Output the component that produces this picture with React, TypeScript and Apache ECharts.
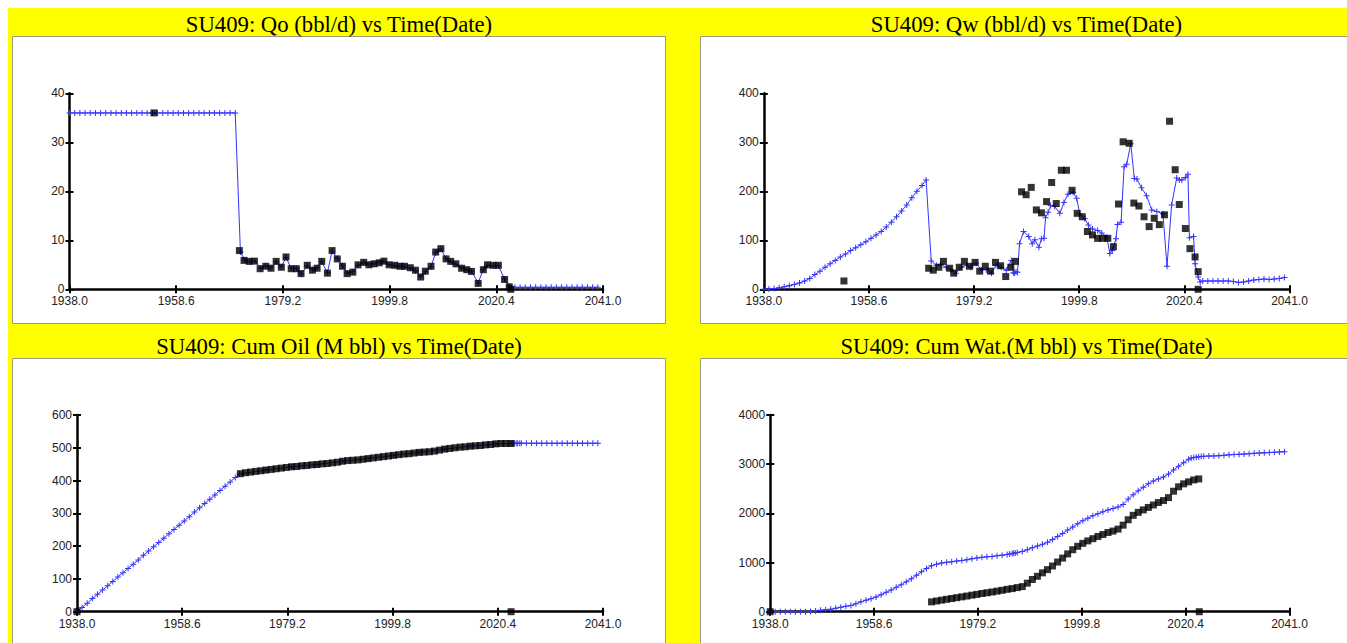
import React, { useEffect, useRef } from "react";
import * as echarts from "echarts";

// ---------- axis scales ----------
const X_MIN = 1938.0;
const X_MAX = 2041.0;
const X_STEP = 20.6;
const Y_MAX = [40, 400, 600, 4000];
const Y_STEP = [10, 100, 100, 1000];

const TITLES = [
  "SU409: Qo (bbl/d) vs Time(Date)",
  "SU409: Qw (bbl/d) vs Time(Date)",
  "SU409: Cum Oil (M bbl) vs Time(Date)",
  "SU409: Cum Wat.(M bbl) vs Time(Date)",
];

// ---------- Qo (bbl/d) ----------
const qoSim: number[][] = [
  [1938, 36], [1939, 36], [1940, 36], [1941, 36], [1942, 36], [1943, 36], [1944, 36], [1945, 36],
  [1946, 36], [1947, 36], [1948, 36], [1949, 36], [1950, 36], [1951, 36], [1952, 36], [1953, 36],
  [1954, 36], [1955, 36], [1956, 36], [1957, 36], [1958, 36], [1959, 36], [1960, 36], [1961, 36],
  [1962, 36], [1963, 36], [1964, 36], [1965, 36], [1966, 36], [1967, 36], [1968, 36], [1969, 36],
  [1970, 36],
  [1971.0, 7.6], [1971.8, 6.0], [1972.8, 5.6], [1973.8, 5.8], [1974.9, 4.3], [1975.9, 4.8], [1976.9, 4.4],
  [1977.9, 5.6], [1978.9, 4.6], [1979.8, 6.5], [1980.8, 4.3], [1981.8, 4.3], [1982.7, 3.1], [1983.9, 4.8],
  [1984.9, 4.0], [1985.8, 4.4], [1986.7, 5.6], [1987.8, 3.4], [1988.7, 7.8], [1989.7, 6.3], [1990.7, 4.8],
  [1991.6, 3.3], [1992.7, 3.6], [1993.7, 4.9], [1994.8, 5.4], [1995.8, 5.1], [1996.8, 5.2], [1997.8, 5.5],
  [1998.7, 5.7], [1999.7, 5.0], [2000.8, 4.8], [2001.8, 4.7], [2002.7, 4.6], [2003.8, 4.3], [2004.8, 3.8],
  [2005.8, 2.6], [2006.7, 3.6], [2007.8, 4.6], [2008.7, 7.5], [2009.7, 8.2], [2010.7, 6.3], [2011.6, 5.6],
  [2012.6, 5.1], [2013.7, 4.4], [2014.7, 4.0], [2015.6, 3.7], [2016.9, 1.3], [2017.9, 4.1], [2018.7, 4.9],
  [2019.8, 4.8], [2020.8, 4.8], [2022.0, 2.1], [2022.9, 0.6], [2023.3, 0.4],
  [2024, 0.4], [2025, 0.4], [2026, 0.4], [2027, 0.4], [2028, 0.4], [2029, 0.4], [2030, 0.4], [2031, 0.4],
  [2032, 0.4], [2033, 0.4], [2034, 0.4], [2035, 0.4], [2036, 0.4], [2037, 0.4], [2038, 0.4], [2039, 0.4],
  [2040, 0.4],
];
const qoObs: number[][] = [
  [1954.3, 36],
  [1970.8, 7.9], [1971.7, 5.9], [1972.7, 5.7], [1973.7, 5.75], [1974.8, 4.2], [1975.9, 4.7], [1976.9, 4.3],
  [1977.9, 5.7], [1978.9, 4.5], [1979.8, 6.6], [1980.8, 4.2], [1981.8, 4.2], [1982.7, 3.2], [1983.9, 4.9],
  [1984.9, 3.9], [1985.8, 4.3], [1986.7, 5.7], [1987.8, 3.3], [1988.7, 7.9], [1989.7, 6.2], [1990.7, 4.7],
  [1991.6, 3.2], [1992.7, 3.5], [1993.7, 5.0], [1994.8, 5.5], [1995.8, 5.0], [1996.8, 5.2], [1997.8, 5.4],
  [1998.7, 5.75], [1999.7, 5.0], [2000.8, 4.9], [2001.8, 4.7], [2002.7, 4.7], [2003.8, 4.4], [2004.8, 3.9],
  [2005.8, 2.5], [2006.7, 3.7], [2007.8, 4.7], [2008.7, 7.6], [2009.7, 8.3], [2010.7, 6.2], [2011.6, 5.7],
  [2012.6, 5.2], [2013.7, 4.3], [2014.7, 4.0], [2015.6, 3.65], [2016.9, 1.2], [2017.9, 4.0], [2018.7, 5.0],
  [2019.8, 4.9], [2020.8, 4.9], [2022.0, 2.0], [2022.9, 0.5], [2023.2, 0],
];

// ---------- Qw (bbl/d) ----------
const qwSim: number[][] = [
  [1938, 0], [1939, 0.5], [1940, 1.5], [1941, 3], [1942, 5], [1943, 7.5], [1944, 10], [1945, 13],
  [1946, 17], [1947, 22], [1948, 30], [1949, 37], [1950, 45], [1951, 52], [1952, 59], [1953, 66],
  [1954, 72], [1955, 79], [1956, 85], [1957, 91], [1958, 97], [1959, 104], [1960, 111], [1961, 118],
  [1962, 127], [1963, 137], [1964, 148], [1965, 160], [1966, 172], [1967, 187], [1968, 200], [1969, 212],
  [1969.8, 223],
  [1970.8, 58], [1971.8, 49], [1972.7, 51], [1973.7, 45], [1974.7, 40], [1975.6, 33], [1976.7, 45],
  [1977.7, 49], [1978.6, 45], [1979.6, 53], [1980.6, 40], [1981.6, 40], [1982.6, 33], [1983.5, 49],
  [1984.5, 45], [1985.5, 39], [1986.5, 59], [1986.9, 34], [1987.1, 33], [1987.4, 36], [1987.7, 35],
  [1988.1, 93], [1988.9, 118], [1989.9, 108], [1990.6, 93], [1991.1, 101], [1991.9, 86], [1992.4, 103],
  [1992.9, 104], [1993.2, 146], [1993.7, 157], [1994.2, 171], [1995.0, 169], [1996.0, 155], [1996.8, 177],
  [1997.6, 194], [1998.6, 198], [1999.3, 186], [1999.9, 154], [2000.9, 144], [2001.6, 131], [2002.4, 123],
  [2003.4, 120], [2004.2, 115], [2005.2, 106], [2005.8, 73], [2006.3, 79], [2007.0, 103], [2007.3, 132],
  [2008.0, 137], [2008.6, 250], [2009.1, 255], [2009.9, 297], [2010.6, 226], [2011.1, 225], [2012.0, 207],
  [2013.0, 191], [2014.0, 162], [2015.0, 159], [2016.2, 154], [2017.0, 47], [2017.9, 172], [2018.9, 227],
  [2019.4, 223], [2019.9, 223], [2020.6, 228], [2021.1, 235], [2021.4, 105], [2022.2, 108], [2022.5, 52],
  [2023.1, 25], [2023.5, 15],
  [2024, 17], [2025, 17], [2026, 17], [2027, 17], [2028, 17], [2029, 17], [2030, 16], [2031, 14],
  [2032, 15], [2033, 17], [2034, 19], [2035, 20], [2036, 21], [2037, 20], [2038, 21], [2039, 22],
  [2040, 24],
];
const qwObs: number[][] = [
  [1953.7, 17],
  [1970.3, 43], [1971.2, 39], [1972.3, 45], [1973.2, 57], [1974.4, 43], [1975.2, 33], [1976.3, 45],
  [1977.3, 57], [1978.3, 47], [1979.4, 55], [1980.3, 37], [1981.4, 47], [1982.4, 37], [1983.4, 55],
  [1984.4, 48], [1985.4, 26], [1986.4, 45], [1987.3, 57], [1988.5, 199], [1989.4, 193], [1990.4, 208],
  [1991.4, 162], [1992.4, 156], [1993.4, 179], [1994.4, 218], [1995.3, 175], [1996.3, 243], [1997.3, 243],
  [1998.4, 202], [1999.4, 155], [2000.4, 148], [2001.4, 118], [2002.4, 111], [2003.4, 104], [2004.4, 104],
  [2005.4, 104], [2006.5, 87], [2007.5, 174], [2008.4, 301], [2009.6, 298], [2010.5, 176], [2011.5, 170],
  [2012.5, 148], [2013.5, 128], [2014.5, 145], [2015.5, 132], [2016.5, 152], [2017.5, 343], [2018.6, 244],
  [2019.4, 173], [2020.6, 124], [2021.5, 83], [2022.5, 66], [2023.1, 36], [2023.1, 0],
];

// ---------- Cum Oil (M bbl) ----------
const cumOilSim: number[][] = [
  [1938, 0], [1939, 13], [1940, 26], [1941, 40], [1942, 53], [1943, 66], [1944, 79], [1945, 92],
  [1946, 106], [1947, 119], [1948, 132], [1949, 145], [1950, 158], [1951, 172], [1952, 185], [1953, 198],
  [1954, 211], [1955, 224], [1956, 238], [1957, 251], [1958, 264], [1959, 277], [1960, 290], [1961, 304],
  [1962, 317], [1963, 330], [1964, 343], [1965, 356], [1966, 370], [1967, 383], [1968, 396], [1969, 409],
  [1969.8, 420], [1975, 432], [1980, 442], [1985, 449], [1990, 459], [1995, 467], [2000, 477], [2005, 486],
  [2010, 496], [2015, 505], [2020, 512], [2023, 513],
  [2023.3, 514], [2023.6, 514], [2024.0, 514], [2024.3, 514], [2024.7, 514], [2025, 514], [2026, 514],
  [2027, 514], [2028, 514], [2029, 514], [2030, 514], [2031, 514], [2032, 514], [2033, 514], [2034, 514],
  [2035, 514], [2036, 514], [2037, 514], [2038, 514], [2039, 514], [2040, 514],
];
const cumOilObs: number[][] = [
  [1938, 0],
  [1970, 421], [1971, 424], [1972, 426], [1973, 428], [1974, 430], [1975, 432], [1976, 434], [1977, 436],
  [1978, 438], [1979, 440], [1980, 442], [1981, 443], [1982, 445], [1983, 446], [1984, 448], [1985, 449],
  [1986, 451], [1987, 452], [1988, 454], [1989, 456], [1990, 459], [1991, 461], [1992, 462], [1993, 463],
  [1994, 465], [1995, 467], [1996, 469], [1997, 471], [1998, 473], [1999, 475], [2000, 477], [2001, 479],
  [2002, 481], [2003, 482], [2004, 484], [2005, 486], [2006, 487], [2007, 488], [2008, 490], [2009, 493],
  [2010, 496], [2011, 498], [2012, 500], [2013, 502], [2014, 503], [2015, 505], [2016, 506], [2017, 507],
  [2018, 509], [2019, 510], [2020, 512], [2021, 513], [2022, 513], [2023, 513],
  [2023, 0],
];

// ---------- Cum Water (M bbl) ----------
const cumWatSim: number[][] = [
  [1938, 0], [1939, 0], [1940, 0], [1941, 0], [1942, 0], [1943, 0], [1944, 0], [1945, 0],
  [1946, 5], [1947, 15], [1948, 30], [1949, 40], [1950, 50], [1951, 70], [1952, 90], [1953, 110],
  [1954, 125], [1955, 160], [1956, 200], [1957, 235], [1958, 265], [1959, 300], [1960, 345], [1961, 395],
  [1962, 440], [1963, 495], [1964, 550], [1965, 610], [1966, 670], [1967, 740], [1968, 810], [1969, 880],
  [1970, 935], [1971, 965], [1972, 990], [1973, 1005], [1974, 1015], [1975, 1030], [1976, 1040], [1977, 1055],
  [1978, 1075], [1979, 1090], [1980, 1105], [1981, 1115], [1982, 1125], [1983, 1140], [1984, 1150],
  [1985, 1165], [1985.5, 1175], [1986, 1185], [1986.3, 1190], [1986.6, 1195], [1987, 1205],
  [1988, 1225], [1989, 1260], [1990, 1300], [1991, 1335], [1992, 1370], [1993, 1410], [1994, 1470],
  [1995, 1530], [1996, 1590], [1997, 1660], [1998, 1720], [1999, 1790], [2000, 1850], [2001, 1900],
  [2002, 1950], [2003, 1990], [2004, 2030], [2005, 2070], [2006, 2100], [2007, 2130], [2008, 2180],
  [2009, 2290], [2010, 2380], [2011, 2460], [2012, 2530], [2013, 2600], [2014, 2660], [2015, 2700],
  [2016, 2740], [2017, 2800], [2018, 2880], [2019, 2960], [2020, 3030], [2021, 3100], [2021.5, 3125],
  [2022, 3135], [2022.5, 3142], [2023, 3150], [2023.5, 3155], [2024, 3160], [2025, 3165], [2026, 3168],
  [2027, 3172], [2028, 3180], [2029, 3190], [2030, 3195], [2031, 3200], [2032, 3205], [2033, 3212],
  [2034, 3220], [2035, 3225], [2036, 3230], [2037, 3235], [2038, 3240], [2039, 3248], [2040, 3255],
];
const cumWatObs: number[][] = [
  [1938, 0],
  [1970, 200], [1971, 218], [1972, 235], [1973, 252], [1974, 268], [1975, 285], [1976, 302], [1977, 318],
  [1978, 336], [1979, 352], [1980, 370], [1981, 385], [1982, 400], [1983, 418], [1984, 435], [1985, 455],
  [1986, 470], [1987, 490], [1988, 510], [1989, 580], [1990, 655], [1991, 720], [1992, 790], [1993, 855],
  [1994, 930], [1995, 1010], [1996, 1090], [1997, 1175], [1998, 1260], [1999, 1330], [2000, 1390],
  [2001, 1440], [2002, 1485], [2003, 1530], [2004, 1570], [2005, 1610], [2006, 1640], [2007, 1680],
  [2008, 1760], [2009, 1870], [2010, 1960], [2011, 2020], [2012, 2070], [2013, 2120], [2014, 2170],
  [2015, 2220], [2016, 2260], [2017, 2320], [2018, 2450], [2019, 2540], [2020, 2600], [2021, 2640],
  [2022, 2680], [2023, 2700],
  [2023.1, 0],
];

const SIMS = [qoSim, qwSim, cumOilSim, cumWatSim];
const OBS = [qoObs, qwObs, cumOilObs, cumWatObs];

// ---------- layout (chart coordinates) ----------
const GRIDS = [
  { left: 61.5, top: 85.3, width: 533.5, height: 196 },
  { left: 755.8, top: 85.3, width: 525.7, height: 196 },
  { left: 69, top: 407, width: 526, height: 196.7 },
  { left: 762.2, top: 407, width: 519.3, height: 196.7 },
];
const BOXES = [
  { x: 4.5, y: 28.5, w: 653, h: 287 },
  { x: 692.5, y: 28.5, w: 660, h: 287 },
  { x: 4.5, y: 350.5, w: 653, h: 300 },
  { x: 692.5, y: 350.5, w: 660, h: 300 },
];
const TITLE_POS = [
  { x: 331, y: 16 },
  { x: 1018.5, y: 16 },
  { x: 331, y: 338 },
  { x: 1018.5, y: 338 },
];

const BLUE = "#3434ff";
const PLUS = "path://M2.5,0L3.5,0L3.5,6L2.5,6Z M0,2.5L6,2.5L6,3.5L0,3.5Z";
const LABEL_FONT = '"Liberation Sans", Arial, sans-serif';

function buildOption() {
  const grid: any[] = [];
  const xAxis: any[] = [];
  const yAxis: any[] = [];
  const series: any[] = [];
  const graphic: any[] = [];

  for (let i = 0; i < 4; i++) {
    grid.push({ ...GRIDS[i], containLabel: false });
    const labelStyle = { color: "#222", fontSize: 12, fontFamily: LABEL_FONT, lineHeight: 12 };
    const baseX = {
      type: "value",
      gridIndex: i,
      min: X_MIN,
      max: X_MAX,
      interval: X_STEP,
      position: "bottom",
      splitLine: { show: false },
    };
    xAxis.push({
      ...baseX,
      axisLine: { show: true, onZero: false, lineStyle: { color: "#000", width: 2.5 } },
      axisTick: { show: true, length: 4, lineStyle: { color: "#000", width: 2 } },
      axisLabel: { ...labelStyle, margin: 6, formatter: (v: number) => v.toFixed(1) },
    });
    xAxis.push({
      ...baseX,
      axisLine: { show: false, onZero: false },
      axisTick: { show: true, inside: true, length: 4, lineStyle: { color: "#000", width: 2 } },
      axisLabel: { show: false },
    });
    const baseY = {
      type: "value",
      gridIndex: i,
      min: 0,
      max: Y_MAX[i],
      interval: Y_STEP[i],
      position: "left",
      splitLine: { show: false },
    };
    yAxis.push({
      ...baseY,
      axisLine: { show: true, onZero: false, lineStyle: { color: "#000", width: 2.5 } },
      axisTick: { show: true, length: 4, lineStyle: { color: "#000", width: 2 } },
      axisLabel: { ...labelStyle, margin: 5, formatter: (v: number) => String(Math.round(v)) },
    });
    yAxis.push({
      ...baseY,
      axisLine: { show: false, onZero: false },
      axisTick: { show: true, inside: true, length: 4, lineStyle: { color: "#000", width: 2 } },
      axisLabel: { show: false },
    });

    series.push({
      type: "line",
      xAxisIndex: i * 2,
      yAxisIndex: i * 2,
      data: SIMS[i],
      symbol: PLUS,
      symbolSize: 6,
      showSymbol: true,
      lineStyle: { color: BLUE, width: 1 },
      itemStyle: { color: BLUE },
      clip: false,
      z: 2,
    });
    series.push({
      type: "scatter",
      xAxisIndex: i * 2,
      yAxisIndex: i * 2,
      data: OBS[i],
      symbol: "rect",
      symbolSize: 7,
      itemStyle: { color: "#000" },
      clip: false,
      z: 3,
    });

    const b = BOXES[i];
    graphic.push({
      type: "rect",
      z: -10,
      silent: true,
      shape: { x: b.x, y: b.y, width: b.w, height: b.h },
      style: { fill: "#ffffff", stroke: "#9a9a7a", lineWidth: 1 },
    });
    graphic.push({
      type: "text",
      z: -5,
      silent: true,
      x: TITLE_POS[i].x,
      y: TITLE_POS[i].y,
      style: {
        text: TITLES[i],
        fill: "#000",
        fontSize: 22.7,
        fontFamily: '"Liberation Serif", "Times New Roman", serif',
        align: "center",
        verticalAlign: "middle",
      },
    });
  }

  return {
    animation: false,
    backgroundColor: "#ffff00",
    grid,
    xAxis,
    yAxis,
    series,
    graphic,
  };
}

export default function App() {
  const ref = useRef<HTMLDivElement>(null);
  useEffect(() => {
    if (!ref.current) return;
    const chart = echarts.init(ref.current, undefined, { renderer: "svg" });
    chart.setOption(buildOption() as any);
    return () => chart.dispose();
  }, []);
  return (
    <div
      ref={ref}
      style={{ position: "fixed", left: 8, top: 8, width: 1339, height: 635 }}
    />
  );
}
